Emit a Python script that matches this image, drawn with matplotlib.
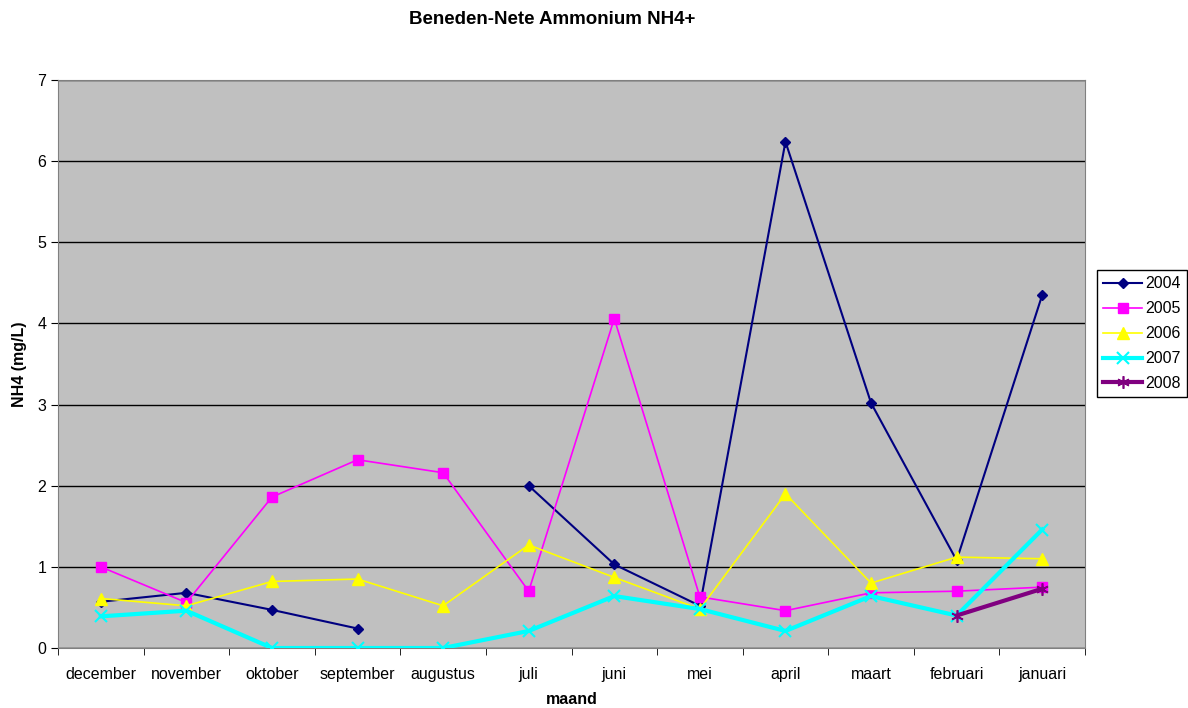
import matplotlib
matplotlib.use("Agg")
import matplotlib.pyplot as plt
import numpy as np

months = ["december", "november", "oktober", "september", "augustus", "juli",
          "juni", "mei", "april", "maart", "februari", "januari"]
nan = np.nan
y2004 = [0.57, 0.68, 0.47, 0.24, nan, 2.00, 1.03, 0.52, 6.24, 3.02, 1.08, 4.35]
y2005 = [1.00, 0.56, 1.86, 2.32, 2.16, 0.70, 4.06, 0.63, 0.46, 0.68, 0.70, 0.75]
y2006 = [0.61, 0.52, 0.82, 0.85, 0.52, 1.27, 0.87, 0.48, 1.90, 0.80, 1.12, 1.10]
y2007 = [0.39, 0.46, 0.00, 0.00, 0.00, 0.21, 0.64, 0.48, 0.21, 0.64, 0.40, 1.46]
y2008 = [nan, nan, nan, nan, nan, nan, nan, nan, nan, nan, 0.40, 0.73]

plt.rcParams['font.family'] = ['Liberation Sans', 'DejaVu Sans']

fig = plt.figure(figsize=(11.88, 7.08), dpi=100)
ax = fig.add_axes([58/1188, 60/708, (1085-58)/1188, (648-80)/708])
ax.set_facecolor('#C0C0C0')

x = np.arange(len(months))
ax.plot(x, y2004, color='#000080', lw=1.5, marker='D', ms=5.5, label='2004', zorder=3)
ax.plot(x, y2005, color='#FF00FF', lw=1.2, marker='s', ms=7, label='2005', zorder=3)
ax.plot(x, y2006, color='#FFFF00', lw=1.2, marker='^', ms=8, label='2006', zorder=3)
ax.plot(x, y2007, color='#00FFFF', lw=3, marker='x', ms=9, mew=1.5, label='2007', zorder=3)
ax.plot(x, y2008, color='#800080', lw=3, marker=(6, 2, 0), ms=9, mew=1.2, label='2008', zorder=4)

ax.set_xlim(-0.5, len(months) - 0.5)
ax.set_ylim(0, 7)
ax.set_yticks(range(0, 8))
ax.set_xticks(x)
ax.set_xticklabels(months, fontsize=11.5)
ax.set_xticks(np.arange(-0.5, len(months), 1), minor=True)
ax.tick_params(axis='x', which='major', length=0, pad=14)
ax.tick_params(axis='x', which='minor', length=5, direction='out', color='black')
ax.tick_params(axis='y', length=5, direction='out', labelsize=11.5)
ax.yaxis.grid(True, color='black', lw=1)
ax.set_axisbelow(True)
for s in ['top', 'right', 'left', 'bottom']:
    ax.spines[s].set_color('#808080')

fig.text(20/1188, 1 - 364/708, 'NH4 (mg/L)', rotation=90, ha='center', va='center',
         fontsize=11.5, fontweight='bold')
fig.text(572/1188, 1 - 700/708, 'maand', ha='center', va='center',
         fontsize=11.5, fontweight='bold')
fig.text(552/1188, 1 - 20/708, 'Beneden-Nete Ammonium NH4+', ha='center', va='center',
         fontsize=13.5, fontweight='bold')

leg = ax.legend(loc='upper left', bbox_to_anchor=(1097/1188, 1 - 270/708),
                bbox_transform=fig.transFigure, fontsize=11.5, frameon=True,
                fancybox=False, edgecolor='black', framealpha=1, borderpad=0.4,
                borderaxespad=0, handlelength=2.4, labelspacing=0.62, handletextpad=0.2)
leg.get_frame().set_linewidth(1)

fig.savefig('out.png', dpi=100, facecolor='white')
